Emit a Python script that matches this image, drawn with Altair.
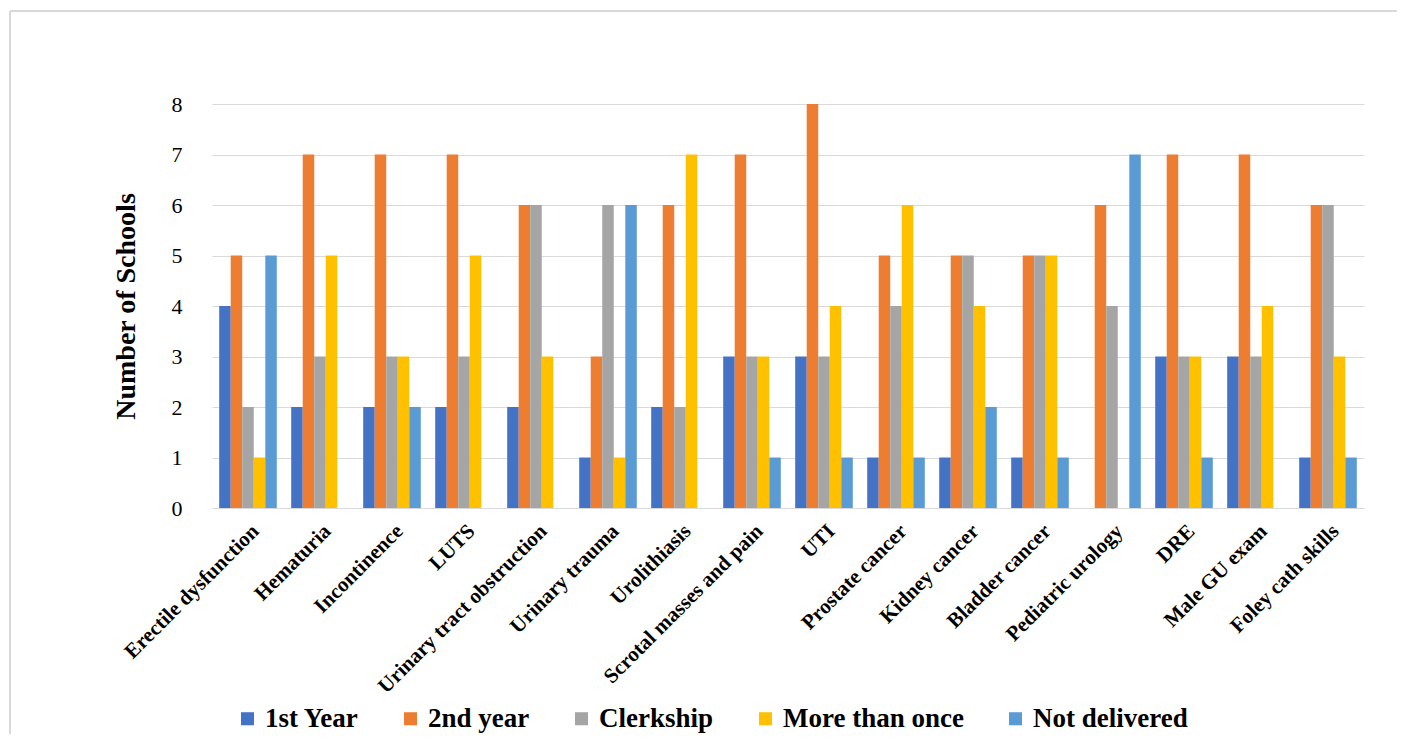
import altair as alt
import pandas as pd

categories = ["Erectile dysfunction", "Hematuria", "Incontinence", "LUTS",
              "Urinary tract obstruction", "Urinary trauma", "Urolithiasis",
              "Scrotal masses and pain", "UTI", "Prostate cancer", "Kidney cancer",
              "Bladder cancer", "Pediatric urology", "DRE", "Male GU exam",
              "Foley cath skills"]
series = ["1st Year", "2nd year", "Clerkship", "More than once", "Not delivered"]
colors = ["#4472C4", "#ED7D31", "#A5A5A5", "#FFC000", "#5B9BD5"]

first_year     = [4, 2, 2, 2, 2, 1, 2, 3, 3, 1, 1, 1, 0, 3, 3, 1]
second_year    = [5, 7, 7, 7, 6, 3, 6, 7, 8, 5, 5, 5, 6, 7, 7, 6]
clerkship      = [2, 3, 3, 3, 6, 6, 2, 3, 3, 4, 5, 5, 4, 3, 3, 6]
more_than_once = [1, 5, 3, 5, 3, 1, 7, 3, 4, 6, 4, 5, 0, 3, 4, 3]
not_delivered  = [5, 0, 2, 0, 0, 6, 0, 1, 1, 1, 2, 1, 7, 1, 0, 1]

rows = []
for s, vals in zip(series, [first_year, second_year, clerkship, more_than_once, not_delivered]):
    for c, v in zip(categories, vals):
        rows.append({"Topic": c, "Series": s, "Schools": v})
df = pd.DataFrame(rows)

FONT = "Liberation Serif"

bars = alt.Chart(df).mark_bar(stroke=None).encode(
    x=alt.X("Topic:N", sort=categories,
            scale=alt.Scale(paddingInner=0.2, paddingOuter=0.1),
            axis=alt.Axis(title=None, labelAngle=-45, labelFont=FONT,
                          labelFontWeight="bold", labelFontSize=21,
                          labelColor="#000000", labelPadding=12, grid=False,
                          ticks=False, domain=True, domainColor="#d9d9d9",
                          labelLimit=400)),
    xOffset=alt.XOffset("Series:N", sort=series,
                        scale=alt.Scale(paddingInner=0, paddingOuter=0)),
    y=alt.Y("Schools:Q", scale=alt.Scale(domain=[0, 8], nice=False),
            axis=alt.Axis(title="Number of Schools", values=list(range(9)),
                          labelFont=FONT, labelFontSize=22, labelColor="#000000",
                          labelPadding=30, ticks=False, domain=False,
                          gridColor="#d9d9d9", gridWidth=1.2,
                          titleFont=FONT, titleFontSize=28, titleFontWeight="bold",
                          titleColor="#000000", titlePadding=31)),
    color=alt.Color("Series:N", sort=series,
                    scale=alt.Scale(domain=series, range=colors),
                    legend=alt.Legend(title=None, orient="none", direction="horizontal",
                                      legendX=22, legendY=601,
                                      symbolType="square", symbolSize=170,
                                      symbolStrokeWidth=0,
                                      labelFont=FONT, labelFontWeight="bold",
                                      labelFontSize=27, labelColor="#000000",
                                      columnPadding=38, labelLimit=400)),
)

top_line = alt.Chart(df).mark_rule(color="#d9d9d9", strokeWidth=2, clip=False).encode(
    x=alt.value(-202), x2=alt.value(1185), y=alt.value(-93)
)
left_line = alt.Chart(df).mark_rule(color="#d9d9d9", strokeWidth=2, clip=False).encode(
    x=alt.value(-202), y=alt.value(-93), y2=alt.value(700)
)

chart = alt.layer(top_line, left_line, bars).properties(
    width=1152, height=404,
    background="#ffffff",
    padding={"left": 204, "top": 96, "right": 40, "bottom": 226},
    autosize=alt.AutoSizeParams(type="none"),
).configure_view(stroke="transparent", strokeWidth=0)

chart.save("out.html", embed_options={"renderer": "svg", "actions": False})
